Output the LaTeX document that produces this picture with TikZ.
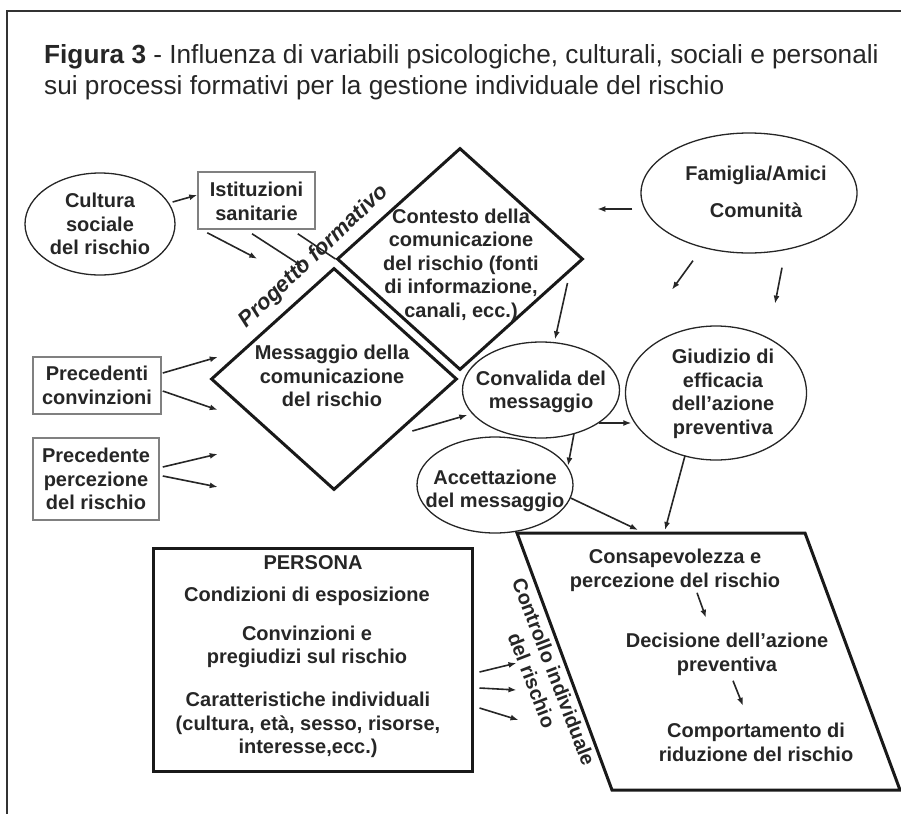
\documentclass[tikz,border=0pt]{standalone}
\usepackage{fontspec}
\setmainfont{Liberation Sans}
\usetikzlibrary{shapes.geometric,arrows.meta,calc}
\newcommand{\dgfont}{\fontsize{20}{23.5}\selectfont\bfseries}
\newcommand{\ttlfont}{\fontsize{26.2}{29}\selectfont}

\begin{document}
\begin{tikzpicture}[x=1pt, y=-1pt,
        txt/.style={font=\dgfont, text=black!85, align=center, inner sep=0pt},
        ell/.style={draw=black!85, ellipse, line width=1.3pt, inner sep=0pt},
        gbox/.style={draw=black!50, rectangle, line width=1.5pt, inner sep=0pt},
        diam/.style={draw=black!90, diamond, line width=3pt, inner sep=0pt, minimum width=246pt, minimum height=222pt},
        arr/.style={-{Latex[length=8pt,width=6pt]}, line width=1.6pt, draw=black!85},
        ln/.style={line width=1.6pt, draw=black!85}]
        \useasboundingbox (0,0) rectangle (901,814);
        % cornice e titolo
        \draw[line width=1.3pt, black!80] (901,11) -- (7,11) -- (7,814);
        \node[anchor=base west, inner sep=0pt, font=\ttlfont, text=black!85] (ttl1) at (44,63) {\textbf{Figura 3} - Influenza di variabili psicologiche, culturali, sociali e personali};
        \node[anchor=base west, inner sep=0pt, font=\ttlfont, text=black!85] (ttl2) at (44,94) {sui processi formativi per la gestione individuale del rischio};
        % forme
        \node[ell, minimum width=150pt, minimum height=102pt] (cult) at (100,224) {};
        \node[gbox, minimum width=117pt, minimum height=57pt] (ist) at (256.5,200.5) {};
        \node[diam] (ctx) at (460,259) {};
        \node[diam] (msg) at (334,379) {};
        \node[ell, minimum width=216pt, minimum height=120pt] (fam) at (749,193) {};
        \node[ell, minimum width=157pt, minimum height=96pt] (conv) at (541,390) {};
        \node[ell, minimum width=181pt, minimum height=134pt] (giud) at (716,393) {};
        \node[ell, minimum width=156pt, minimum height=96pt] (acc) at (495,485) {};
        \node[gbox, minimum width=128pt, minimum height=57pt] (prc) at (97,385.5) {};
        \node[gbox, minimum width=126pt, minimum height=82pt] (prp) at (96,479) {};
        \node[draw=black!90, rectangle, line width=3pt, minimum width=319pt, minimum height=223pt] (pers) at (312.5,659.5) {};
        \coordinate (ptl) at (517,533);
        \coordinate (ptr) at (805,533);
        \coordinate (pbr) at (900,790);
        \coordinate (pbl) at (612,790);
        \draw[line width=3pt, black!90, line join=miter] (ptl) -- (ptr) -- (pbr) -- (pbl) -- cycle;
        % testi
        \node[txt] (cultT) at (cult) {Cultura\\sociale\\del rischio};
        \node[txt] (istT) at (256.5,201.5) {Istituzioni\\sanitarie};
        \node[txt] (ctxT) at (461,265) {Contesto della\\comunicazione\\del rischio (fonti\\di informazione,\\canali, ecc.)};
        \node[txt] (msgT) at (332,376) {Messaggio della\\comunicazione\\del rischio};
        \node[txt] (famT) at (756,192) {Famiglia/Amici\\[13.5pt]Comunità};
        \node[txt] (convT) at (541,392) {Convalida del\\messaggio};
        \node[txt] (giudT) at (723,394) {Giudizio di\\efficacia\\dell’azione\\preventiva};
        \node[txt] (accT) at (495,491) {Accettazione\\del messaggio};
        \node[txt] (prcT) at (prc) {Precedenti\\convinzioni};
        \node[txt] (prpT) at (96,479) {Precedente\\percezione\\del rischio};
        \node[txt] (persT) at (313,563) {PERSONA};
        \node[txt] (condT) at (307,596) {Condizioni di esposizione};
        \node[txt] (convzT) at (307,647) {Convinzioni e\\pregiudizi sul rischio};
        \node[txt] (carT) at (308,725) {Caratteristiche individuali\\(cultura, età, sesso, risorse,\\interesse,ecc.)};
        \node[txt] (consT) at (675,570.5) {Consapevolezza e\\percezione del rischio};
        \node[txt] (deciT) at (727,654.5) {Decisione dell’azione\\preventiva};
        \node[txt] (compT) at (756,742.5) {Comportamento di\\riduzione del rischio};
        \node[txt, font=\fontsize{22}{26}\selectfont\bfseries\itshape, rotate=43.6] (prog) at (314,257) {Progetto formativo};
        \node[txt, rotate=-69] (ctrl) at (543,676) {Controllo individuale\\del rischio};
        % frecce
        \draw[arr] ($(cult.east)+(-3,-22)$) -- ($(ist.west)+(0,-5.5)$);
        \draw[arr] ($(ist.south west)+(10,3)$) -- +(50,26);
        \draw[arr] ($(ist.south)+(-4.5,4)$) -- +(51,33);
        \draw[ln] ($(ist.south east)+(-18,4)$) -- (ctx.west);
        \draw[arr] ($(fam.west)+(-8,16)$) -- +(-35,0);
        \draw[arr] ($(fam.south)+(-56,7)$) -- +(-21,29);
        \draw[arr] ($(fam.south)+(33,14)$) -- +(-7,36);
        \draw[arr] ($(ctx.east)+(-17,24)$) -- ($(conv.north)+(14,-2)$);
        \draw[arr] ($(prc.east)+(1,-12.5)$) -- +(55,-16);
        \draw[arr] ($(prc.east)+(1,5.5)$) -- +(55,19);
        \draw[arr] ($(prp.east)+(3,-12)$) -- +(55,-13);
        \draw[arr] ($(prp.east)+(3,-3)$) -- +(55,11);
        \draw[arr] ($(conv.west)+(-49.5,41)$) -- ($(conv.west)+(5.5,25)$);
        \draw[arr] ($(conv.east)+(-21.5,33)$) -- ($(giud.west)+(6.5,30)$);
        \draw[arr] ($(conv.south)+(33,-5)$) -- +(-6,32);
        \draw[arr] ($(acc.east)+(-3,13)$) -- ($(ptl)+(121,-3)$);
        \draw[arr] ($(giud.south)+(-31,-5)$) -- ($(ptl)+(148,-3)$);
        \draw[arr] ($(consT.south)+(22,1)$) -- +(9,25);
        \draw[arr] ($(deciT.south)+(6,5)$) -- +(10,25);
        \draw[arr] ($(pers.east)+(6,12.5)$) -- +(37,-9);
        \draw[arr] ($(pers.east)+(6,28.5)$) -- +(37,2);
        \draw[arr] ($(pers.east)+(6,48.5)$) -- +(39,12);
\end{tikzpicture}
\end{document}
